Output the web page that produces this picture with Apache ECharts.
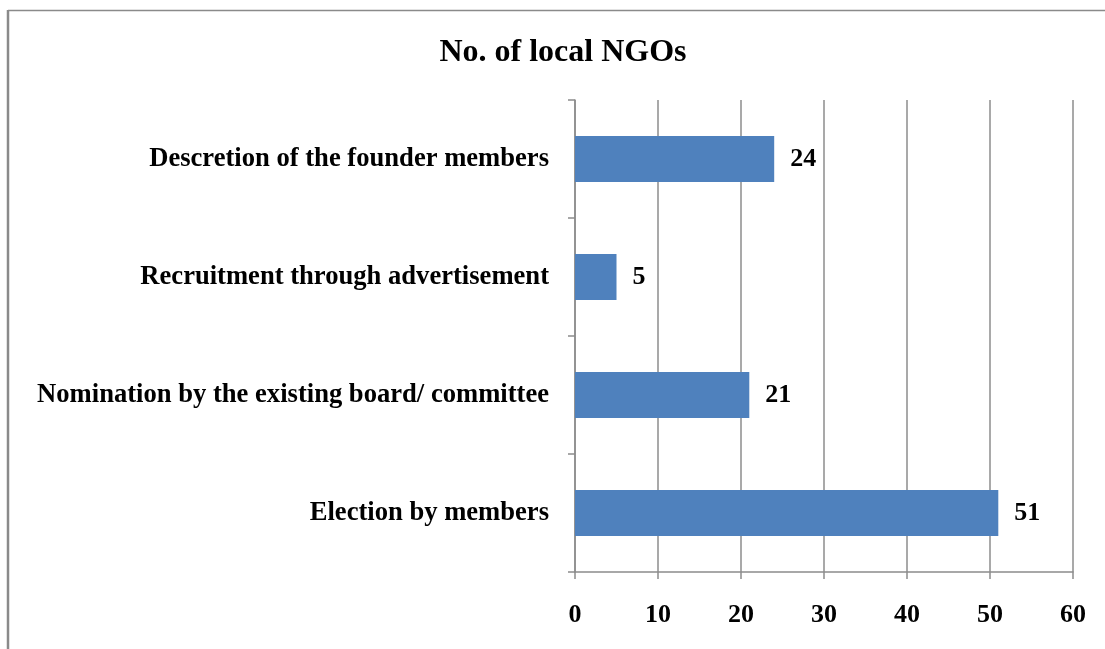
<!DOCTYPE html>
<html>
<head>
<meta charset="utf-8">
<script src="https://cdn.jsdelivr.net/npm/echarts@6/dist/echarts.min.js"></script>
<style>
  html, body { margin: 0; padding: 0; background: #ffffff; }
  #chart { width: 1105px; height: 649px; }
</style>
</head>
<body>
<div id="chart"></div>
<script>
// Selection methods for board members, listed bottom to top
const categories = [
  'Election by members',
  'Nomination by the existing board/ committee',
  'Recruitment through advertisement',
  'Descretion of the founder members'
];
const counts = [51, 21, 5, 24];
const axisMin = 0;
const axisMax = 60;
const axisStep = 10;

const serif = '"Liberation Serif", "Times New Roman", serif';
const gridGray = '#8c8c8c';

const chart = echarts.init(document.getElementById('chart'), null, { renderer: 'canvas' });

chart.setOption({
  animation: false,
  backgroundColor: '#ffffff',
  title: {
    text: 'No. of local NGOs',
    left: 558,
    top: 32,
    textAlign: 'center',
    textStyle: { fontFamily: serif, fontWeight: 'bold', fontSize: 32, color: '#000' }
  },
  grid: { left: 575, right: 32, top: 100, bottom: 77, containLabel: false },
  xAxis: {
    type: 'value',
    min: axisMin,
    max: axisMax,
    interval: axisStep,
    axisLine: { show: true, lineStyle: { color: gridGray, width: 1.5 } },
    axisTick: { show: true, length: 7, lineStyle: { color: gridGray, width: 1.5 } },
    splitLine: { show: true, lineStyle: { color: gridGray, width: 1.5 } },
    axisLabel: {
      margin: 30,
      fontFamily: serif, fontWeight: 'bold', fontSize: 26, color: '#000'
    }
  },
  yAxis: {
    type: 'category',
    data: categories,
    axisLine: { show: true, lineStyle: { color: gridGray, width: 1.5 } },
    axisTick: { show: true, length: 7, lineStyle: { color: gridGray, width: 1.5 } },
    splitLine: { show: false },
    axisLabel: {
      margin: 26,
      fontFamily: serif, fontWeight: 'bold', fontSize: 26.6, color: '#000'
    }
  },
  series: [{
    type: 'bar',
    data: counts,
    barWidth: '39%',
    itemStyle: { color: '#4f81bd' },
    label: {
      show: true,
      position: 'right',
      distance: 16,
      fontFamily: serif, fontWeight: 'bold', fontSize: 26, color: '#000'
    }
  }],
  graphic: [
    // outer frame: top and left edges
    { type: 'line', shape: { x1: 8, y1: 10.5, x2: 1105, y2: 10.5 }, style: { stroke: '#8a8a8a', lineWidth: 1.5 } },
    { type: 'line', shape: { x1: 8, y1: 10, x2: 8, y2: 649 }, style: { stroke: '#8a8a8a', lineWidth: 2.5 } }
  ]
});
</script>
</body>
</html>
